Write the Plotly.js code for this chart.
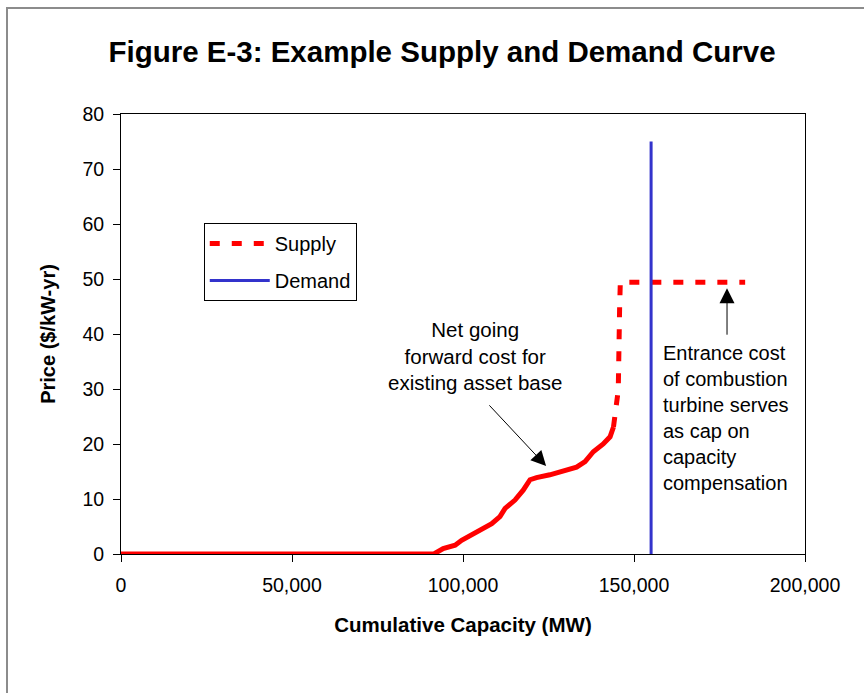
<!DOCTYPE html>
<html>
<head>
<meta charset="utf-8">
<script src="https://cdn.plot.ly/plotly-3.0.1.min.js"></script>
<style>
  html, body { margin: 0; padding: 0; background: #ffffff; }
  #wrap { position: relative; width: 864px; height: 693px; overflow: hidden; }
  #chart { position: absolute; left: 0; top: 0; width: 864px; height: 693px; }
  #frame { position: absolute; left: 6px; top: 7px; width: 900px; height: 800px;
           border-top: 2px solid #8c8c8c; border-left: 2px solid #8c8c8c; pointer-events: none; }
</style>
</head>
<body>
<div id="wrap">
  <div id="chart"></div>
  <div id="frame"></div>
</div>
<script>
// ---- data ----
// Supply curve: dense "existing asset" part (drawn solid in the reference)
const supplyX = [0, 91500, 94200, 97700, 99600, 102500, 105400, 108400, 110800, 112300, 115200, 117600, 119600, 121500, 125400, 129300, 133200, 135700, 138100, 141000, 143000, 144000];
const supplyY = [0, 0, 1.0, 1.6, 2.5, 3.5, 4.7, 5.5, 6.8, 8.3, 9.8, 11.6, 13.5, 13.9, 14.4, 15.2, 15.8, 16.8, 18.6, 20.0, 21.3, 23.1];
// Supply curve: steep tail and combustion-turbine cap (drawn dashed in the reference)
const supplyCapX = [144000, 144700, 145400, 145800, 146000, 182500];
const supplyCapY = [23.1, 25.9, 29.8, 45.0, 49.4, 49.4];
// Demand: vertical line
const demandX = [155000, 155000];
const demandY = [0, 75];

const xTickVals = [0, 50000, 100000, 150000, 200000];
const yTickVals = [0, 10, 20, 30, 40, 50, 60, 70, 80];

const titleText = "Figure E-3: Example Supply and Demand Curve";
const xTitle = "Cumulative Capacity (MW)";
const yTitle = "Price ($/kW-yr)";
const noteLeft = "Net going<br>forward cost for<br>existing asset base";
const noteRight = "Entrance cost<br>of combustion<br>turbine serves<br>as cap on<br>capacity<br>compensation";
// annotation anchor points (data coords)
const noteLeftPos = [103500, 36];
const arrowLeft = {tip: [124300, 16.0], tail: [107300, 27.3]};
const noteRightPos = [157800, 24.8];
const arrowRight = {tip: [177200, 48.3], tail: [177200, 39.6]};

const FONT = "Liberation Sans, Arial, Helvetica, sans-serif";

const traces = [
  { x: supplyX, y: supplyY, type: "scatter", mode: "lines", name: "Supply",
    line: { color: "#FF0000", width: 5 }, showlegend: false, legendgroup: "s", hoverinfo: "skip" },
  { x: supplyCapX, y: supplyCapY, type: "scatter", mode: "lines", name: "Supply",
    line: { color: "#FF0000", width: 5, dash: "10px,12px" }, legendgroup: "s" },
  { x: demandX, y: demandY, type: "scatter", mode: "lines", name: "Demand",
    line: { color: "#3333CC", width: 3 }, legendgroup: "d" }
];

const axisCommon = {
  showline: true, mirror: true, linecolor: "#000", linewidth: 1,
  ticks: "outside", ticklen: 7, tickcolor: "#000", tickwidth: 1,
  showgrid: false, zeroline: false,
  tickfont: { family: FONT, size: 19.5, color: "#000" }
};

const layout = {
  width: 864, height: 693,
  margin: { l: 121, r: 59, t: 114, b: 139 },
  paper_bgcolor: "#ffffff", plot_bgcolor: "#ffffff",
  font: { family: FONT, color: "#000" },
  title: { text: "<b>" + titleText + "</b>", font: { family: FONT, size: 29.5, color: "#000" },
           xref: "container", x: 0.5116, xanchor: "center", yref: "container", y: 0.925, yanchor: "middle" },
  xaxis: Object.assign({}, axisCommon, {
    range: [0, 200000], tickvals: xTickVals, tickformat: ",d", ticklabelstandoff: 7,
    title: { text: "<b>" + xTitle + "</b>", font: { family: FONT, size: 20.5, color: "#000" }, standoff: 22 }
  }),
  yaxis: Object.assign({}, axisCommon, {
    range: [0, 80], tickvals: yTickVals, ticklabelstandoff: 5,
    title: { text: "<b>" + yTitle + "</b>", font: { family: FONT, size: 20, color: "#000" }, standoff: 21 }
  }),
  legend: {
    x: 0.121, y: 0.752, xanchor: "left", yanchor: "top",
    bordercolor: "#000", borderwidth: 1, bgcolor: "#fff",
    font: { family: FONT, size: 20, color: "#000" },
    traceorder: "grouped", tracegroupgap: 8, entrywidth: 176, itemwidth: 60
  },
  showlegend: true,
  annotations: [
    { x: noteLeftPos[0], y: noteLeftPos[1], xref: "x", yref: "y", text: noteLeft, showarrow: false,
      align: "center", xanchor: "center", yanchor: "middle", font: { family: FONT, size: 20.5, color: "#000" } },
    { x: arrowLeft.tip[0], y: arrowLeft.tip[1], ax: arrowLeft.tail[0], ay: arrowLeft.tail[1],
      xref: "x", yref: "y", axref: "x", ayref: "y", text: "", showarrow: true,
      arrowhead: 2, arrowsize: 3, arrowwidth: 1, arrowcolor: "#000" },
    { x: noteRightPos[0], y: noteRightPos[1], xref: "x", yref: "y", text: noteRight, showarrow: false,
      align: "left", xanchor: "left", yanchor: "middle", font: { family: FONT, size: 20, color: "#000" } },
    { x: arrowRight.tip[0], y: arrowRight.tip[1], ax: arrowRight.tail[0], ay: arrowRight.tail[1],
      xref: "x", yref: "y", axref: "x", ayref: "y", text: "", showarrow: true,
      arrowhead: 2, arrowsize: 3, arrowwidth: 1, arrowcolor: "#000" }
  ]
};

Plotly.newPlot("chart", traces, layout, { staticPlot: true, displayModeBar: false });
</script>
</body>
</html>
